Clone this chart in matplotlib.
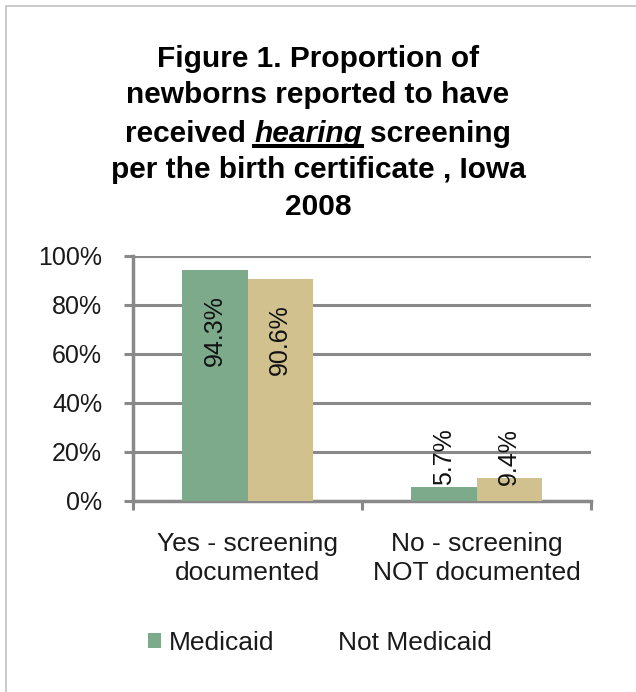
import numpy as np
import matplotlib
matplotlib.use('Agg')
import matplotlib.pyplot as plt
from matplotlib.patches import Patch, Rectangle
from matplotlib.lines import Line2D

categories = ['Yes - screening\ndocumented', 'No - screening\nNOT documented']
series_names = ['Medicaid', 'Not Medicaid']
medicaid = [0.943, 0.057]
not_medicaid = [0.906, 0.094]
value_labels = [['94.3%', '5.7%'], ['90.6%', '9.4%']]
yticks = [0, 0.2, 0.4, 0.6, 0.8, 1.0]
ytick_labels = ['0%', '20%', '40%', '60%', '80%', '100%']

green = '#7eaa8c'
tan = '#d0c18e'
gray = '#898989'
font = 'Liberation Sans'
plt.rcParams['font.family'] = [font, 'DejaVu Sans']

W, H = 636, 692
fig = plt.figure(figsize=(W/100, H/100), dpi=100)

# outer chart border (only left/top visible in the crop)
fig.patches.append(Rectangle((6/W, -0.1), 1.2, (H-6)/H + 0.1, transform=fig.transFigure,
                             fill=False, edgecolor='#bcbcbc', lw=1.1))

ax = fig.add_axes([133/W, (H-501)/H, (591-133)/W, (501-255.7)/H])

x = np.arange(len(categories))
w = 0.284
b1 = ax.bar(x - w/2, medicaid, w, color=green, label=series_names[0], zorder=3)
b2 = ax.bar(x + w/2, not_medicaid, w, color=tan, label=series_names[1], zorder=3)

for bars, vals, labs in [(b1, medicaid, value_labels[0]), (b2, not_medicaid, value_labels[1])]:
    for rect, v, s in zip(bars, vals, labs):
        cx = rect.get_x() + rect.get_width()/2
        if v > 0.5:
            ax.text(cx, v - 0.105, s, rotation=90, ha='center', va='top', fontsize=18, color='#111111', zorder=4)
        else:
            ax.text(cx, 0.065, s, rotation=90, ha='center', va='bottom', fontsize=18, color='#111111', zorder=4)

ax.set_xlim(-0.5, len(categories) - 0.5)
ax.set_ylim(0, 1)
ax.set_yticks(yticks)
ax.set_yticklabels(ytick_labels)
ax.set_xticks(x)
ax.set_xticklabels(categories, fontsize=19, linespacing=1.3)
ax.set_xticks(np.arange(len(categories) + 1) - 0.5, minor=True)

ax.tick_params(axis='y', length=6.8, width=2.2, color=gray, pad=15.5, labelsize=18, labelcolor='#1a1a1a')
ax.tick_params(axis='x', which='major', length=0, pad=22, labelcolor='#1a1a1a')
ax.tick_params(axis='x', which='minor', length=6.5, width=2.2, color=gray)

ax.yaxis.grid(True, color=gray, lw=2.2, zorder=0)
ax.set_axisbelow(True)
for side in ['top', 'right']:
    ax.spines[side].set_visible(False)
for side in ['left', 'bottom']:
    ax.spines[side].set_color(gray)
    ax.spines[side].set_linewidth(2.5)

handles = [Patch(facecolor=green, edgecolor='none'), Patch(facecolor='none', edgecolor='none')]
fig.legend(handles, series_names, loc='center', bbox_to_anchor=(320/W, (H-643)/H), ncol=2,
           frameon=False, fontsize=19, handlelength=0.5, handleheight=0.5,
           handletextpad=0.3, columnspacing=1.6, labelcolor='#1a1a1a')

# title, drawn line by line so that "hearing" can be italic and underlined
title_size = 21.5
baselines = [66.7, 103, 141.7, 178, 215]
lines = ['Figure 1. Proportion of', 'newborns reported to have', None,
         'per the birth certificate , Iowa', '2008']
for ln, yb in zip(lines, baselines):
    if ln is not None:
        fig.text(0.5, 1 - yb/H, ln, ha='center', va='baseline', fontsize=title_size, fontweight='bold')

r = fig.canvas.get_renderer()
def tw(s, **kw):
    t = fig.text(0, 0, s, fontsize=title_size, fontweight='bold', **kw)
    e = t.get_window_extent(renderer=r).width
    t.remove()
    return e

space = tw('x x') - tw('xx')
parts = [('received', 'normal'), ('hearing', 'italic'), ('screening', 'normal')]
widths = [tw(p, style=st) for p, st in parts]
total = sum(widths) + space*2
xpos = W/2 - total/2
yb = 1 - baselines[2]/H
for (p, st), wd in zip(parts, widths):
    fig.text(xpos/W, yb, p, ha='left', va='baseline', fontsize=title_size, fontweight='bold', style=st)
    if p == 'hearing':
        fig.add_artist(Line2D([xpos/W, (xpos + wd)/W], [yb - 4.5/H, yb - 4.5/H],
                              transform=fig.transFigure, color='black', lw=2.9))
    xpos += wd + space

fig.savefig('out.png', dpi=100)
